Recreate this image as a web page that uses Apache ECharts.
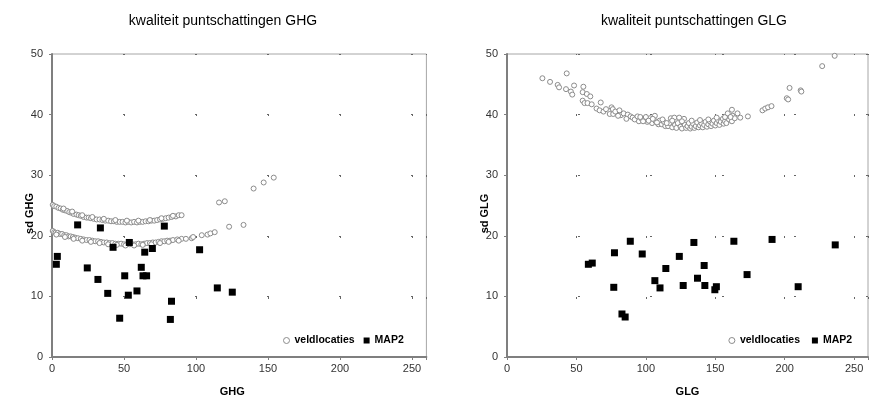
<!DOCTYPE html>
<html>
<head>
<meta charset="utf-8">
<script src="https://cdn.jsdelivr.net/npm/echarts@6/dist/echarts.min.js"></script>
<style>
  html, body { margin: 0; padding: 0; background: #fff; }
  #chart { width: 871px; height: 402px; }
</style>
</head>
<body>
<div id="chart"></div>
<script>
// Titles, axis names and tick labels
const titles = ['kwaliteit puntschattingen GHG', 'kwaliteit puntschattingen GLG'];
const xNames = ['GHG', 'GLG'];
const yNames = ['sd GHG', 'sd GLG'];
const seriesNames = ['veldlocaties', 'MAP2'];
const xTicks = [0, 50, 100, 150, 200, 250];
const yTicks = [0, 10, 20, 30, 40, 50];

// GHG: field locations [GHG, sd GHG]
const ghgVeld = [
  [0.5,25.1],[1.5,24.9],[3,24.8],[4.5,24.6],[6,24.5],[7.5,24.3],[9,24.2],[10.5,24.1],[12,23.9],[13.5,23.8],
  [15,23.6],[17,23.5],[18.5,23.4],[20,23.3],[22,23.1],[24,23.0],[25.5,23.0],[27,22.9],[29,22.8],[31,22.7],
  [33,22.7],[35,22.6],[37,22.5],[39,22.5],[41,22.4],[43,22.4],[45,22.3],[47,22.3],[49,22.3],[51,22.2],
  [53,22.3],[55,22.2],[57,22.3],[59,22.2],[61,22.3],[63,22.3],[65,22.4],[67,22.4],[69,22.5],[71,22.5],
  [73,22.6],[75,22.7],[77,22.8],[79,22.9],[81,23.0],[83,23.1],[86,23.2],[88,23.4],[90,23.4],
  [8,24.5],[14,24.0],[21,23.4],[28,23.1],[36,22.8],[44,22.6],[52,22.5],[60,22.5],[68,22.6],[76,22.9],[84,23.3],
  [0.5,20.8],[1.5,20.6],[2.5,20.5],[4,20.5],[5.5,20.3],[7,20.3],[8.5,20.1],[10,20.1],[11.5,19.9],[13,19.9],
  [14.5,19.8],[16,19.7],[18,19.6],[20,19.5],[22,19.4],[24,19.3],[26,19.3],[28,19.2],[30,19.1],[32,19.1],
  [34,19.0],[36,18.9],[38,18.9],[40,18.8],[42,18.8],[44,18.7],[46,18.7],[48,18.7],[50,18.6],[52,18.6],
  [54,18.6],[56,18.6],[58,18.6],[60,18.7],[62,18.6],[64,18.7],[66,18.8],[68,18.8],[70,18.9],[72,18.9],
  [74,19.0],[76,19.1],[78,19.1],[80,19.2],[82,19.2],[84,19.3],[87,19.4],[90,19.5],[93,19.5],[97,19.6],[98,19.8],
  [3,20.2],[9,19.8],[15,19.5],[21,19.2],[27,19.0],[33,18.8],[39,18.6],[45,18.5],[51,18.4],[57,18.4],
  [63,18.5],[69,18.6],[75,18.8],[81,19.0],[88,19.2],
  [104,20.1],[108,20.2],[110,20.4],[113,20.6],[116,25.5],[120,25.7],[123,21.5],[133,21.8],
  [140,27.8],[147,28.8],[154,29.6]
];

// GHG: MAP2 [GHG, sd GHG]
const ghgMap2 = [
  [3.7,16.6],[3,15.3],[17.8,21.8],[24.5,14.7],[31.9,12.8],[33.6,21.3],[38.7,10.5],[42.4,18.1],
  [47,6.4],[50.5,13.4],[53,10.2],[53.7,18.9],[59,10.9],[62,14.8],[63.2,13.4],[64.4,17.3],
  [65.7,13.4],[69.7,17.9],[78,21.6],[82.2,6.2],[83,9.2],[102.5,17.7],[114.8,11.4],[125.2,10.7]
];

// GLG: field locations [GLG, sd GLG]
const glgVeld = [
  [25.5,46.0],[31,45.4],[36.5,44.9],[37.5,44.5],[43,46.8],[42.5,44.2],[46,43.8],[47,43.3],[48.3,44.8],
  [55,44.6],[54.5,43.7],[57.5,43.4],[60,43.0],[54.5,42.3],[55.8,41.9],[58,41.9],[61,41.7],[67.5,42.0],
  [64.5,41.0],[66.7,40.7],[69.5,40.5],[71.3,40.9],[75.3,41.2],[76.2,40.9],[74,40.1],[76.5,40.1],[78,40.5],
  [81,40.7],[82,39.9],[80,39.8],[84,40.2],[87,40.0],[86,39.3],[89,39.7],[90.5,39.5],[92,39.2],[94,39.7],
  [95,38.9],[97,39.3],[99.5,39.2],[101,38.8],[103,39.4],[104.5,38.6],[106.5,39.8],[107,38.9],[109,38.4],
  [110,39.0],[111.5,38.4],[113,38.8],[114,38.1],[116,38.1],[117,38.6],[118,39.4],[119,37.9],[120.5,39.5],
  [121,38.3],[122,37.8],[123,38.6],[124,39.5],[125,38.0],[126,37.7],[127.5,39.3],[128,38.3],[129,37.8],
  [130,38.1],[131,38.6],[132,37.7],[133,38.0],[134,38.5],[135,37.8],[136,38.1],[137,38.7],[138,37.9],
  [139,38.2],[140,38.6],[141,37.9],[142,38.3],[143,38.8],[144,38.0],[145,38.4],[146,38.9],[147,38.1],
  [148,38.5],[149,39.0],[150,38.2],[151,38.6],[152,39.1],[153,38.3],[154,38.8],[155.5,39.3],[156,38.5],
  [157,38.9],[158,38.6],[160,39.2],[162,40.8],[162.5,39.8],[162,38.9],[164,39.4],[166,40.2],[168,39.5],
  [96,39.6],[98,38.9],[100,39.6],[102,39.0],[105,39.3],[108,38.7],[112,39.2],[115,38.6],[119,39.0],
  [126,38.9],[133,39.0],[139,39.1],[145,39.2],[151,39.5],[157,39.6],[159,40.2],[161,39.6],
  [173.5,39.7],[184,40.7],[186,41.0],[188,41.2],[190.5,41.4],[201.5,42.7],[202.5,42.5],[203.5,44.4],
  [211.5,44.0],[212,43.8],[227,48.0],[236,49.7]
];

// GLG: MAP2 [GLG, sd GLG]
const glgMap2 = [
  [58.6,15.3],[61.4,15.5],[77.4,17.2],[76.9,11.5],[88.8,19.1],[82.8,7.1],[85.1,6.6],[97.4,17.0],
  [106.5,12.6],[110.2,11.4],[114.4,14.6],[124.1,16.6],[126.9,11.8],[134.6,18.9],[137.2,13.0],[142,15.1],
  [142.5,11.8],[149.7,11.1],[150.8,11.6],[163.4,19.1],[172.9,13.6],[190.9,19.4],[209.7,11.6],[236.4,18.5]
];

const FONT = 'Liberation Sans, Arial, sans-serif';
const plotW = 374.4, plotH = 305;
const gridLefts = [52, 507];

function xAxisFor(i) {
  return {
    type: 'value', gridIndex: i, min: 0, max: 260, interval: 50,
    name: xNames[i], nameLocation: 'middle', nameGap: 29, nameMoveOverlap: false,
    nameTextStyle: {
      fontFamily: FONT, fontSize: 11, fontWeight: 'bold', color: '#000',
      padding: i === 0 ? [0, 14, 0, 0] : [0, 0, 0, 0]
    },
    axisLine: { show: true, lineStyle: { color: '#7f7f7f', width: 2 } },
    axisTick: { show: true, length: 3, lineStyle: { color: '#7f7f7f' } },
    axisLabel: {
      fontFamily: FONT, fontSize: 11, color: '#333', margin: 6,
      formatter: v => (xTicks.indexOf(v) >= 0 ? String(v) : '')
    },
    splitLine: { show: true, lineStyle: { color: '#666', width: 1, type: [2, 59], dashOffset: 1 } }
  };
}

function yAxisFor(i) {
  return {
    type: 'value', gridIndex: i, min: 0, max: 50, interval: 10,
    name: yNames[i], nameLocation: 'middle', nameGap: 17, nameRotate: 90, nameMoveOverlap: false,
    nameTextStyle: {
      fontFamily: FONT, fontSize: 11, fontWeight: 'bold', color: '#000',
      padding: [0, 16, 0, 0]
    },
    axisLine: { show: true, lineStyle: { color: '#7f7f7f', width: 2 } },
    axisTick: { show: true, length: 3, lineStyle: { color: '#7f7f7f' } },
    axisLabel: {
      fontFamily: FONT, fontSize: 11, color: '#333', margin: 9,
      formatter: v => (yTicks.indexOf(v) >= 0 ? String(v) : '')
    },
    splitLine: { show: true, lineStyle: { color: '#666', width: 1, type: [2, 70], dashOffset: 1 } }
  };
}

const veldStyle = { color: '#ffffff', borderColor: '#8c8c8c', borderWidth: 1, opacity: 1 };
const mapStyle = { color: '#000000', opacity: 1 };

const legendText = { fontFamily: FONT, fontSize: 10.5, fontWeight: 'bold', color: '#000' };

const option = {
  animation: false,
  backgroundColor: '#ffffff',
  title: titles.map((t, i) => ({
    text: t, left: [218, 689][i], top: 9, textAlign: 'center',
    textStyle: { fontFamily: FONT, fontSize: 14, fontWeight: 'normal', color: '#000' }
  })),
  legend: [
    {
      left: 278, top: 331, orient: 'horizontal',
      itemWidth: 6, itemHeight: 6, itemGap: 9,
      backgroundColor: '#ffffff', padding: [4, 5],
      textStyle: legendText,
      data: [
        { name: seriesNames[0], icon: 'circle', itemStyle: veldStyle },
        { name: seriesNames[1], icon: 'rect', itemStyle: mapStyle }
      ]
    },
    {
      right: 11, top: 331, orient: 'horizontal',
      itemWidth: 6, itemHeight: 6, itemGap: 9,
      backgroundColor: '#ffffff', padding: [4, 5],
      textStyle: legendText,
      data: [
        { name: seriesNames[0] + ' ', icon: 'circle', itemStyle: veldStyle },
        { name: seriesNames[1] + ' ', icon: 'rect', itemStyle: mapStyle }
      ]
    }
  ],
  grid: gridLefts.map(l => ({
    left: l, top: 54, width: plotW, height: plotH,
    show: true, borderColor: '#a6a6a6', borderWidth: 1, backgroundColor: 'transparent'
  })),
  xAxis: [xAxisFor(0), xAxisFor(1)],
  yAxis: [yAxisFor(0), yAxisFor(1)],
  series: [
    { name: seriesNames[0], type: 'scatter', xAxisIndex: 0, yAxisIndex: 0, data: ghgVeld,
      symbol: 'circle', symbolSize: 5, itemStyle: veldStyle, z: 2 },
    { name: seriesNames[1], type: 'scatter', xAxisIndex: 0, yAxisIndex: 0, data: ghgMap2,
      symbol: 'rect', symbolSize: 7, itemStyle: mapStyle, z: 3 },
    { name: seriesNames[0] + ' ', type: 'scatter', xAxisIndex: 1, yAxisIndex: 1, data: glgVeld,
      symbol: 'circle', symbolSize: 5, itemStyle: veldStyle, z: 2 },
    { name: seriesNames[1] + ' ', type: 'scatter', xAxisIndex: 1, yAxisIndex: 1, data: glgMap2,
      symbol: 'rect', symbolSize: 7, itemStyle: mapStyle, z: 3 }
  ]
};

const chart = echarts.init(document.getElementById('chart'), null, { renderer: 'canvas' });
chart.setOption(option);
</script>
</body>
</html>
